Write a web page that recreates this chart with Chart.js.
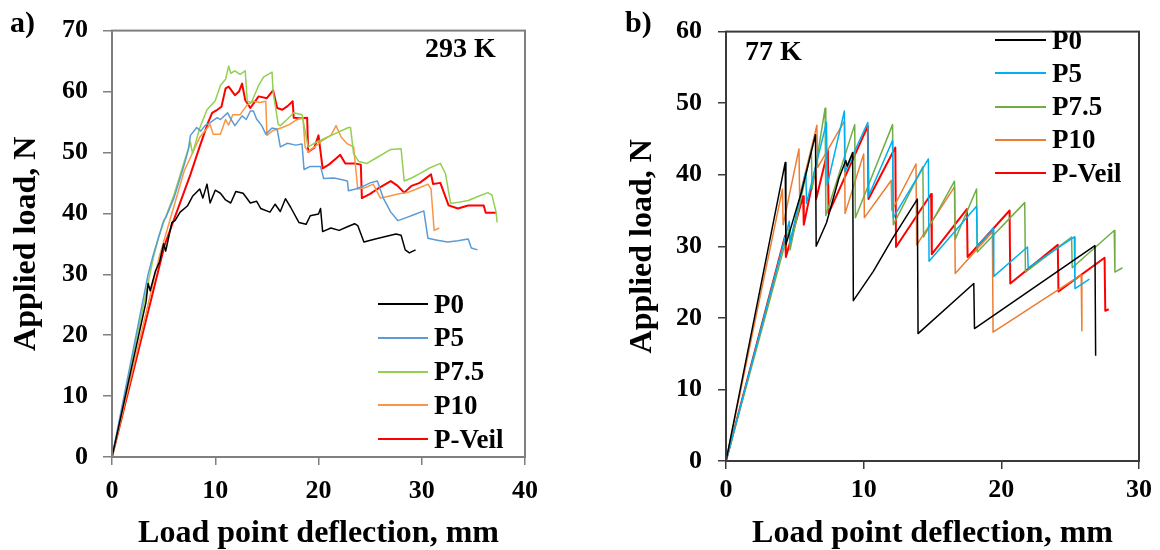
<!DOCTYPE html>
<html>
<head>
<meta charset="utf-8">
<script src="https://cdn.jsdelivr.net/npm/chart.js@4.4.1/dist/chart.umd.min.js"></script>
<style>
  body { margin:0; background:#fff; width:1160px; height:550px; position:relative; overflow:hidden;
         font-family:"Liberation Serif","Times New Roman",serif; font-weight:bold; color:#000; }
  canvas { position:absolute; top:0; }
  .lbl { position:absolute; line-height:1; white-space:nowrap; }
  .leg { position:absolute; display:flex; align-items:center; font-size:27px; line-height:1; white-space:nowrap; }
  .leg .ln { display:inline-block; width:51px; height:2px; margin-right:6px; }
</style>
</head>
<body>
<canvas id="ca" width="560" height="550" style="left:0"></canvas>
<canvas id="cb" width="580" height="550" style="left:580px"></canvas>
<div class="lbl" style="left:10px;top:7px;font-size:30px">a)</div>
<div class="lbl" style="left:625px;top:7px;font-size:30px">b)</div>
<div class="lbl" style="left:425px;top:34px;font-size:28px">293 K</div>
<div class="lbl" style="left:745px;top:37px;font-size:28px">77 K</div>
<div id="lega"></div>
<div id="legb"></div>
<script>
// series names
const names = ['P0', 'P5', 'P7.5', 'P10', 'P-Veil'];

// a) 293 K
const aXTicks = [0, 10, 20, 30, 40];
const aYTicks = [0, 10, 20, 30, 40, 50, 60, 70];
const aP0x = [0, 3.3, 3.5, 3.7, 4.2, 4.6, 5.0, 5.2, 5.8, 6.1, 6.6, 7.3, 7.8, 8.5, 8.8, 9.2, 9.5, 10.0, 10.5, 11.0, 11.5, 12.0, 12.7, 13.4, 14.0, 14.4, 15.3, 15.8, 16.3, 16.8, 17.3, 18.1, 18.8, 19.2, 20.0, 20.2, 20.4, 21.2, 22.0, 22.8, 23.5, 23.8, 24.4, 25.5, 26.5, 27.5, 28.0, 28.4, 28.8, 29.4];
const aP0y = [0, 25.5, 28.5, 27.3, 30.5, 32, 35, 33.8, 38.5, 38.8, 40.2, 41.2, 42.8, 44, 42.5, 44.8, 41.7, 43.8, 43.3, 42.2, 41.7, 43.6, 43.3, 41.7, 42, 40.8, 40.2, 41.5, 40.3, 42.4, 41, 38.5, 38.2, 39.6, 39.9, 40.8, 37, 37.6, 37.2, 37.8, 38.3, 38, 35.3, 35.8, 36.2, 36.6, 36.4, 34, 33.5, 34];
const aP5x = [0, 3.5, 4.0, 4.5, 5.0, 5.2, 6.0, 7.0, 7.4, 7.6, 8.2, 8.6, 9.0, 9.5, 10.2, 10.5, 11.2, 11.5, 11.9, 12.6, 13.0, 13.4, 13.7, 14.0, 14.5, 14.9, 15.5, 16.0, 16.3, 17.0, 17.8, 18.4, 18.6, 19.2, 20.2, 20.5, 21.5, 22.3, 22.8, 22.9, 23.6, 24.4, 25.0, 25.7, 26.3, 27.0, 27.7, 28.5, 29.3, 30.2, 30.6, 31.5, 32.5, 33.5, 34.5, 34.8, 35.4];
const aP5y = [0, 30, 33.2, 36, 38.8, 39.3, 42.5, 48, 50.5, 52.8, 54.1, 53.5, 54.4, 54.9, 55.7, 55.4, 56.5, 55.5, 54.4, 56, 55.4, 56.8, 56.8, 55.5, 54.4, 53, 54, 53.8, 50.9, 51.5, 51.2, 51.4, 47.2, 47.7, 47.7, 45.7, 45.8, 45.5, 45.3, 43.7, 44, 44.5, 45, 45.3, 42.4, 40.2, 38.8, 39.3, 39.8, 40.4, 35.9, 35.6, 35.3, 35.5, 35.8, 34.3, 34];
const aP75x = [0, 4.0, 4.5, 5.0, 6.0, 7.0, 7.6, 7.8, 8.5, 9.2, 10.0, 10.5, 11.0, 11.3, 11.5, 11.9, 12.4, 12.9, 13.1, 13.5, 14.2, 14.7, 15.5, 15.6, 16.1, 16.3, 17.0, 17.6, 18.4, 19.0, 19.6, 20.2, 21.5, 22.9, 23.1, 23.4, 23.9, 24.7, 25.5, 27.0, 28.0, 28.3, 29.0, 29.9, 30.7, 31.8, 32.3, 32.8, 33.5, 34.5, 35.5, 36.4, 36.8, 37.2, 37.3];
const aP75y = [0, 32.7, 36, 38.5, 43, 48.5, 51.7, 49.8, 54, 57, 58.5, 61, 62, 64.2, 63, 63.4, 62.8, 63.4, 58.4, 58.2, 61, 62.4, 63.2, 60, 54.6, 54.4, 55.5, 56.5, 56.2, 50.9, 51.5, 52, 53, 54.1, 54.1, 49.8, 48.5, 48.2, 49, 50.5, 50.6, 45.3, 45.8, 46.6, 47.4, 48.2, 46.5, 41.6, 41.8, 42.1, 42.8, 43.4, 43, 40.2, 38.5];
const aP10x = [0, 4.6, 7.0, 8.5, 9.5, 9.8, 10.5, 11.0, 11.3, 11.7, 12.4, 13.1, 13.7, 14.3, 14.9, 15.0, 15.6, 16.5, 17.2, 17.9, 18.5, 18.7, 19.0, 19.7, 20.4, 21.2, 21.7, 22.2, 22.8, 23.4, 23.8, 24.5, 25.3, 26.0, 26.8, 27.8, 28.6, 29.5, 30.6, 30.9, 31.2, 31.7];
const aP10y = [0, 33, 47, 52.5, 54.6, 53, 53, 55.4, 54.5, 56.2, 56.2, 57.8, 58.4, 58.2, 58.4, 52.8, 53.6, 54.1, 54.6, 55.4, 55.7, 50.9, 50.1, 51, 52, 52.8, 54.4, 52.5, 51.4, 50.9, 44, 44.2, 44.8, 42.5, 42.8, 43.2, 43.4, 44, 44.8, 44, 37.2, 37.6];
const aPVx = [0, 5.1, 7.6, 8.5, 9.3, 9.7, 10.2, 10.6, 11.0, 11.3, 11.9, 12.3, 12.6, 12.9, 13.4, 14.2, 15.0, 15.6, 16.0, 16.5, 17.0, 17.5, 17.6, 18.2, 18.9, 19.0, 19.6, 20.0, 20.4, 21.0, 21.7, 22.1, 22.6, 23.5, 24.1, 24.2, 25.0, 25.7, 27.0, 27.6, 28.3, 29.0, 29.8, 30.9, 31.1, 31.8, 32.6, 33.5, 34.5, 35.5, 36.0, 36.2, 37.2];
const aPVy = [0, 34.8, 46.4, 51, 54.9, 56.5, 57, 57.5, 60.5, 60.8, 59.4, 60, 61.3, 58.6, 57.3, 59.2, 58.9, 60.2, 57.3, 57, 57.6, 58.4, 55.7, 55.6, 55.7, 50.1, 50.8, 52.8, 47.4, 48, 49, 49.6, 48.2, 48.2, 48, 42.5, 43.2, 44, 45.3, 44.6, 43.4, 44.5, 45, 46.4, 44.8, 45, 41.3, 40.8, 41.3, 41.3, 41.3, 40.1, 40.1];

// b) 77 K
const bXTicks = [0, 10, 20, 30];
const bYTicks = [0, 10, 20, 30, 40, 50, 60];
const bP0x = [0, 4.3, 4.35, 5.0, 5.5, 6.5, 6.55, 7.3, 8.2, 8.7, 8.8, 9.2, 9.25, 10.7, 12.1, 13.9, 13.95, 18.0, 18.05, 26.8, 26.85];
const bP0y = [0, 41.7, 30.2, 34.5, 37.7, 45.6, 30.0, 33.3, 39.5, 42, 41.2, 43.1, 22.4, 26.5, 31.1, 36.6, 17.8, 24.8, 18.5, 30.1, 14.7];
const bP5x = [0, 4.6, 4.65, 5.8, 5.85, 7.3, 7.35, 8.6, 8.65, 10.3, 10.35, 12.1, 12.15, 14.7, 14.75, 18.2, 18.25, 19.4, 19.45, 21.9, 21.95, 25.3, 25.35, 26.4];
const bP5y = [0, 33.5, 30.5, 40.5, 36, 47.3, 38.5, 48.9, 40.4, 47.3, 37, 44.8, 34, 42.2, 27.9, 35.6, 30, 32.5, 25.8, 29.9, 27, 31.3, 24.1, 25.4];
const bP75x = [0, 4.6, 4.65, 6.2, 6.25, 7.2, 7.25, 9.35, 9.4, 12.1, 12.15, 14.3, 14.35, 16.6, 16.65, 18.2, 18.25, 21.7, 21.75, 25.1, 25.15, 28.2, 28.25, 28.8];
const bP75y = [0, 32.5, 29.5, 43.5, 38, 49.3, 34.3, 47, 34, 47, 33, 41.1, 31.3, 39.1, 31, 38, 29.2, 36.1, 26.4, 31.3, 27, 32.2, 26.4, 27];
const bP10x = [0, 4.1, 4.15, 5.3, 5.35, 6.6, 6.65, 8.6, 8.65, 10.0, 10.05, 12.0, 12.05, 13.8, 13.85, 16.6, 16.65, 19.35, 19.4, 25.8, 25.85];
const bP10y = [0, 38, 33, 43.6, 37, 46.9, 41, 47.5, 34.6, 42.9, 34, 39.2, 35, 41.5, 30.2, 38.3, 26.2, 32, 18, 26, 18.2];
const bPVx = [0, 4.3, 4.35, 5.6, 5.65, 6.5, 6.55, 7.4, 7.45, 10.3, 10.35, 12.3, 12.35, 14.9, 14.95, 17.5, 17.55, 20.6, 20.65, 24.1, 24.15, 27.5, 27.55, 27.8];
const bPVy = [0, 31.5, 28.5, 37, 33, 40.9, 36.6, 43.4, 34.6, 46.8, 36.6, 43.8, 29.9, 37.3, 28.9, 35.2, 28.5, 35, 24.8, 30.2, 23.7, 28.4, 21, 21.2];

const colorsA = ['#000000', '#5B9BD5', '#92D050', '#F79646', '#FF0000'];
const colorsB = ['#000000', '#00B0F0', '#70AD47', '#ED7D31', '#FF0000'];
const widths = [1.5, 1.5, 1.5, 1.5, 2];

const FONT = '"Liberation Serif", "Times New Roman", serif';

function pts(xs, ys) {
  return xs.map((x, i) => ({x: x, y: ys[i]}));
}

const frame = {
  id: 'frame',
  afterDraw(chart, args, opts) {
    const a = chart.chartArea, ctx = chart.ctx;
    ctx.save();
    ctx.strokeStyle = opts.color;
    ctx.lineWidth = 2;
    ctx.strokeRect(a.left, a.top, a.right - a.left, a.bottom - a.top);
    ctx.restore();
  }
};

function makeChart(id, series, colors, xt, yt, g) {
  return new Chart(document.getElementById(id), {
    type: 'scatter',
    data: {
      datasets: series.map((s, i) => ({
        label: names[i],
        data: pts(s[0], s[1]),
        showLine: true,
        borderColor: colors[i],
        backgroundColor: colors[i],
        borderWidth: widths[i],
        borderJoinStyle: 'round',
        pointRadius: 0,
        tension: 0
      }))
    },
    options: {
      responsive: false,
      animation: false,
      layout: { padding: { top: g.top, right: g.right, left: 0, bottom: 0 } },
      plugins: { legend: { display: false }, tooltip: { enabled: false }, frame: { color: g.axis } },
      scales: {
        x: {
          type: 'linear', min: xt[0], max: xt[xt.length - 1],
          afterBuildTicks: s => { s.ticks = xt.map(v => ({value: v})); },
          afterFit: s => { s.height = g.xh; },
          ticks: { color: '#000', padding: g.xpad, font: { family: FONT, size: 26, weight: 'bold' } },
          grid: { drawOnChartArea: false, tickLength: 8, color: g.axis, lineWidth: 1.5 },
          border: { display: false },
          title: { display: true, text: 'Load point deflection, mm', color: '#000', padding: 0,
                   font: { family: FONT, size: 32, weight: 'bold', lineHeight: 1 } }
        },
        y: {
          type: 'linear', min: yt[0], max: yt[yt.length - 1],
          afterBuildTicks: s => { s.ticks = yt.map(v => ({value: v})); },
          afterFit: s => { s.width = g.yw; },
          ticks: { color: '#000', padding: g.ypad, font: { family: FONT, size: 26, weight: 'bold' } },
          grid: { drawOnChartArea: false, tickLength: g.ytl, color: g.axis, lineWidth: 1.5 },
          border: { display: false },
          title: { display: true, text: 'Applied load, N', color: '#000', padding: { top: g.ytp },
                   font: { family: FONT, size: 32, weight: 'bold', lineHeight: 1 } }
        }
      }
    },
    plugins: [frame]
  });
}

makeChart('ca',
  [[aP0x, aP0y], [aP5x, aP5y], [aP75x, aP75y], [aP10x, aP10y], [aPVx, aPVy]],
  colorsA, aXTicks, aYTicks,
  { top: 21, right: 35, xh: 93, yw: 112, xpad: 11, ypad: 15, ytl: 9, ytp: 11, axis: '#7f7f7f' });

makeChart('cb',
  [[bP0x, bP0y], [bP5x, bP5y], [bP75x, bP75y], [bP10x, bP10y], [bPVx, bPVy]],
  colorsB, bXTicks, bYTicks,
  { top: 22, right: 21, xh: 89, yw: 146, xpad: 6, ypad: 16, ytl: 8, ytp: 47, axis: '#3a3a3a' });

// legends, built from the series names and colours
function legend(el, colors, left, top0, step, lineW) {
  const box = document.getElementById(el);
  names.forEach((n, i) => {
    const row = document.createElement('div');
    row.className = 'leg';
    row.style.left = left + 'px';
    row.style.top = (top0 + i * step - 13.5) + 'px';
    row.innerHTML = '<span class="ln" style="width:' + lineW + 'px;background:' + colors[i] +
      ';height:' + (i === 4 ? 2.5 : 2) + 'px"></span><span>' + n + '</span>';
    box.appendChild(row);
  });
}
legend('lega', colorsA, 378, 304, 33.75, 50);
legend('legb', colorsB, 995, 40, 33.3, 51);
</script>
</body>
</html>
